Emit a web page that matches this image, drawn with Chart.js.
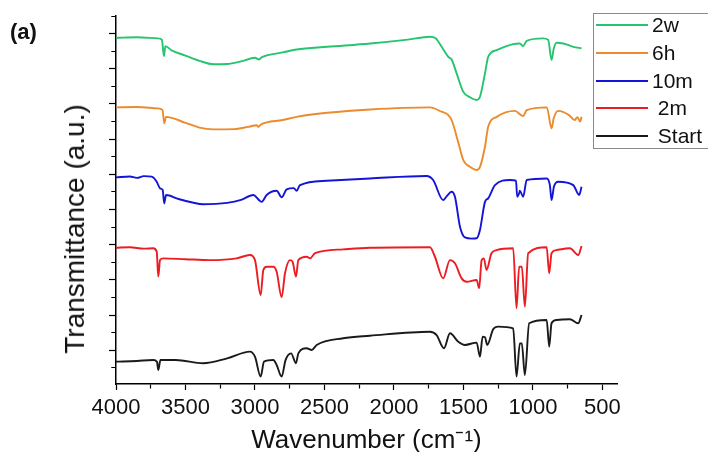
<!DOCTYPE html>
<html>
<head>
<meta charset="utf-8">
<script src="https://cdn.jsdelivr.net/npm/chart.js@4.4.1/dist/chart.umd.min.js"></script>
<style>
    html, body { margin: 0; padding: 0; background: #fff; }
    #wrap { position: relative; width: 708px; height: 452px; overflow: hidden; font-family: "Liberation Sans", Arial, sans-serif; }
    #panel { position: absolute; left: 10px; top: 19px; font-weight: bold; font-size: 22px; color: #111; }
    #ytitle { position: absolute; left: 75px; top: 229px; font-size: 28px; line-height: 1; color: #111; white-space: nowrap; transform: translate(-50%, -50%) rotate(-90deg); }
    #legend { position: absolute; left: 593px; top: 13px; width: 130px; height: 134px; border: 1px solid #8a8a8a; background: #fff; }
    .row { position: absolute; left: 0; width: 128px; height: 28px; line-height: 28px; font-size: 21px; color: #111; white-space: pre; }
    .row i { position: absolute; left: 2px; top: 13px; width: 52px; height: 2px; }
    .row span { position: absolute; left: 58px; }
</style>
</head>
<body>
<div id="wrap">
    <canvas id="ftirChart" width="708" height="452"></canvas>
    <div id="panel">(a)</div>
    <div id="ytitle">Transmittance (a.u.)</div>
    <div id="legend"></div>
</div>
<script>
    // FTIR spectra (transmittance in arbitrary offset units)
    var wn2w = [4000, 3850, 3700, 3670, 3655, 3645, 3600, 3500, 3400, 3300, 3200, 3100, 3000, 2972, 2950, 2800, 2700, 2480, 2170, 1900, 1741, 1700, 1657, 1609, 1585, 1549, 1501, 1453, 1405, 1381, 1345, 1322, 1261, 1142, 1094, 1070, 1045, 926, 890, 866, 850, 830, 782, 710, 650];
    var t2w = [187.6, 187.9, 187.3, 186.5, 177.2, 182.9, 180.5, 177.5, 174.5, 172.6, 172.7, 174.2, 176.3, 175.3, 176.6, 179.3, 181.0, 182.5, 184.4, 186.6, 188.2, 187.4, 182.5, 176.8, 175.3, 167.4, 156.9, 153.8, 152.3, 154.1, 167.4, 176.8, 180.6, 184.0, 184.4, 182.9, 185.9, 187.3, 186.4, 175.0, 181.5, 184.8, 184.4, 182.5, 181.6];

    var wn6h = [4000, 3850, 3700, 3665, 3653, 3640, 3500, 3400, 3300, 3150, 3050, 2988, 2975, 2960, 2800, 2700, 2480, 2170, 1741, 1657, 1609, 1585, 1535, 1501, 1453, 1405, 1381, 1345, 1322, 1261, 1130, 1070, 1045, 900, 866, 850, 820, 740, 700, 680, 660, 650];
    var t6h = [148.1, 148.3, 147.5, 146.5, 139.0, 142.7, 139.3, 136.6, 135.6, 135.7, 137.0, 137.9, 137.0, 138.2, 140.9, 142.7, 145.0, 146.9, 148.1, 145.6, 143.7, 140.9, 127.6, 118.1, 114.3, 112.5, 114.3, 125.7, 137.1, 142.7, 146.1, 143.1, 146.5, 148.1, 136.2, 142.0, 146.1, 143.7, 140.9, 142.5, 140.0, 142.7];

    var wn10m = [4000, 3900, 3850, 3800, 3743, 3707, 3683, 3664, 3653, 3640, 3550, 3450, 3372, 3200, 3100, 3012, 2952, 2916, 2844, 2808, 2772, 2720, 2700, 2676, 2484, 2173, 1765, 1718, 1646, 1621, 1585, 1561, 1525, 1489, 1440, 1405, 1381, 1345, 1322, 1273, 1165, 1122, 1113, 1100, 1094, 1070, 1045, 901, 878, 866, 849, 818, 710, 667, 650];
    var t10m = [108.3, 108.8, 108.0, 109.0, 108.7, 105.8, 102.1, 101.1, 93.5, 98.3, 96.0, 94.0, 93.0, 93.8, 95.5, 98.3, 94.4, 98.3, 100.7, 97.0, 101.5, 102.2, 100.7, 103.9, 106.4, 107.7, 109.1, 106.8, 95.4, 97.5, 100.1, 97.3, 80.3, 74.2, 73.5, 73.7, 78.4, 94.4, 96.4, 103.9, 106.8, 106.4, 97.3, 99.0, 100.7, 97.3, 106.8, 107.7, 103.9, 95.4, 103.0, 105.8, 103.9, 98.3, 103.0];

    var wn2m = [4000, 3900, 3800, 3732, 3707, 3696, 3683, 3660, 3500, 3324, 3132, 3036, 3000, 2959, 2940, 2916, 2868, 2844, 2808, 2784, 2748, 2730, 2705, 2688, 2628, 2604, 2568, 2365, 2173, 1741, 1705, 1646, 1597, 1561, 1513, 1477, 1405, 1387, 1369, 1353, 1334, 1298, 1261, 1142, 1118, 1099, 1080, 1058, 1034, 901, 883, 866, 830, 734, 674, 650];
    var t2m = [68.3, 68.6, 67.8, 68.0, 66.1, 51.9, 61.3, 62.3, 61.8, 61.3, 62.3, 64.2, 61.3, 41.5, 55.7, 57.5, 57.5, 54.7, 40.2, 53.8, 61.3, 60.5, 51.9, 61.3, 63.2, 62.3, 65.2, 67.4, 68.3, 68.6, 63.2, 50.9, 61.3, 59.5, 50.9, 49.0, 50.0, 45.3, 61.3, 62.3, 55.7, 65.2, 67.0, 68.0, 33.9, 57.5, 57.5, 34.8, 65.2, 68.6, 53.8, 65.2, 67.0, 68.0, 64.2, 69.3];

    var wnStart = [4000, 3850, 3732, 3705, 3696, 3680, 3570, 3372, 3200, 3036, 3000, 2959, 2935, 2868, 2844, 2808, 2780, 2740, 2705, 2688, 2628, 2592, 2556, 2365, 2173, 1741, 1693, 1640, 1597, 1537, 1489, 1405, 1381, 1362, 1345, 1329, 1286, 1250, 1142, 1118, 1094, 1080, 1058, 1027, 901, 883, 866, 830, 734, 674, 650];
    var tStart = [3.6, 4.0, 4.5, 3.5, -1.1, 4.5, 4.5, 2.7, 5.5, 9.3, 6.4, -4.9, 3.6, 4.5, 1.7, -4.9, 4.5, 8.3, 2.7, 8.3, 11.2, 10.2, 13.1, 16.9, 18.3, 20.6, 18.7, 11.2, 19.7, 14.9, 13.1, 14.4, 6.4, 17.8, 17.5, 13.1, 22.0, 23.5, 22.5, -4.9, 14.0, 14.0, -4.0, 25.4, 27.3, 12.1, 25.4, 27.3, 27.7, 25.4, 30.1];

    var seriesLabels = ['2w', '6h', '10m', ' 2m', ' Start'];
    var seriesColors = ['#26c46e', '#ec8a2c', '#1414d6', '#ec1c22', '#1a1a1a'];

    // tick positions (x: every 250 cm-1, labelled every 500; y: unlabelled)
    var xTicks = [4000, 3750, 3500, 3250, 3000, 2750, 2500, 2250, 2000, 1750, 1500, 1250, 1000, 750, 500];
    var yTicks = [200, 190, 180, 170, 160, 150, 140, 130, 120, 110, 100, 90, 80, 70, 60, 50, 40, 30, 20, 10, 0];

    var FONT = '"Liberation Sans", Arial, sans-serif';

    function toPoints(xs, ys) {
        return xs.map(function (x, i) { return { x: x, y: ys[i] }; });
    }

    var allX = [wn2w, wn6h, wn10m, wn2m, wnStart];
    var allY = [t2w, t6h, t10m, t2m, tStart];

    var datasets = seriesLabels.map(function (label, i) {
        return {
            label: label,
            data: toPoints(allX[i], allY[i]),
            borderColor: seriesColors[i],
            backgroundColor: seriesColors[i],
            borderWidth: 1.9,
            pointRadius: 0,
            fill: false,
            cubicInterpolationMode: 'monotone'
        };
    });

    var ctx = document.getElementById('ftirChart').getContext('2d');
    var chart = new Chart(ctx, {
        type: 'line',
        data: { datasets: datasets },
        options: {
            responsive: false,
            animation: false,
            devicePixelRatio: 1,
            layout: { padding: { left: 0, top: 16, right: 91, bottom: 0 } },
            plugins: {
                legend: { display: false },
                tooltip: { enabled: false }
            },
            scales: {
                x: {
                    type: 'linear',
                    reverse: true,
                    min: 395,
                    max: 4000,
                    afterBuildTicks: function (s) { s.ticks = xTicks.map(function (v) { return { value: v }; }); },
                    afterFit: function (s) { s.height = 68; },
                    grid: {
                        drawOnChartArea: false,
                        tickLength: 6,
                        tickColor: '#000',
                        tickWidth: 1.2,
                        tickBorderDash: function (c) { return (c.tick && c.tick.value % 500) ? [4, 50] : []; }
                    },
                    border: { color: '#000', width: 1.5 },
                    ticks: {
                        color: '#111',
                        font: { family: FONT, size: 22 },
                        padding: 5,
                        maxRotation: 0,
                        autoSkip: false,
                        callback: function (v) { return v % 500 === 0 ? String(v) : ''; }
                    },
                    title: {
                        display: true,
                        text: 'Wavenumber (cm\u207B\u00B9)',
                        color: '#111',
                        font: { family: FONT, size: 26 },
                        padding: { top: 0, bottom: -4.6 }
                    }
                },
                y: {
                    type: 'linear',
                    min: -9.1,
                    max: 200,
                    afterBuildTicks: function (s) { s.ticks = yTicks.map(function (v) { return { value: v }; }); },
                    afterFit: function (s) { s.width = 116; },
                    grid: {
                        drawOnChartArea: false,
                        tickLength: 7,
                        tickColor: '#000',
                        tickWidth: 1.2,
                        tickBorderDash: function (c) { return (c.tick && (c.tick.value / 10) % 2 === 0) ? [0, 2.3, 4, 50] : []; }
                    },
                    border: { color: '#000', width: 1.5 },
                    ticks: { display: false }
                }
            }
        }
    });

    // legend box drawn as html, overlapping the right end of the plot like the original
    var legendBox = document.getElementById('legend');
    var rowTops = [-3, 25, 53, 80, 108];
    chart.data.datasets.forEach(function (ds, i) {
        var row = document.createElement('div');
        row.className = 'row';
        row.style.top = rowTops[i] + 'px';
        var swatch = document.createElement('i');
        swatch.style.background = ds.borderColor;
        var text = document.createElement('span');
        text.textContent = ds.label;
        row.appendChild(swatch);
        row.appendChild(text);
        legendBox.appendChild(row);
    });
</script>
</body>
</html>
